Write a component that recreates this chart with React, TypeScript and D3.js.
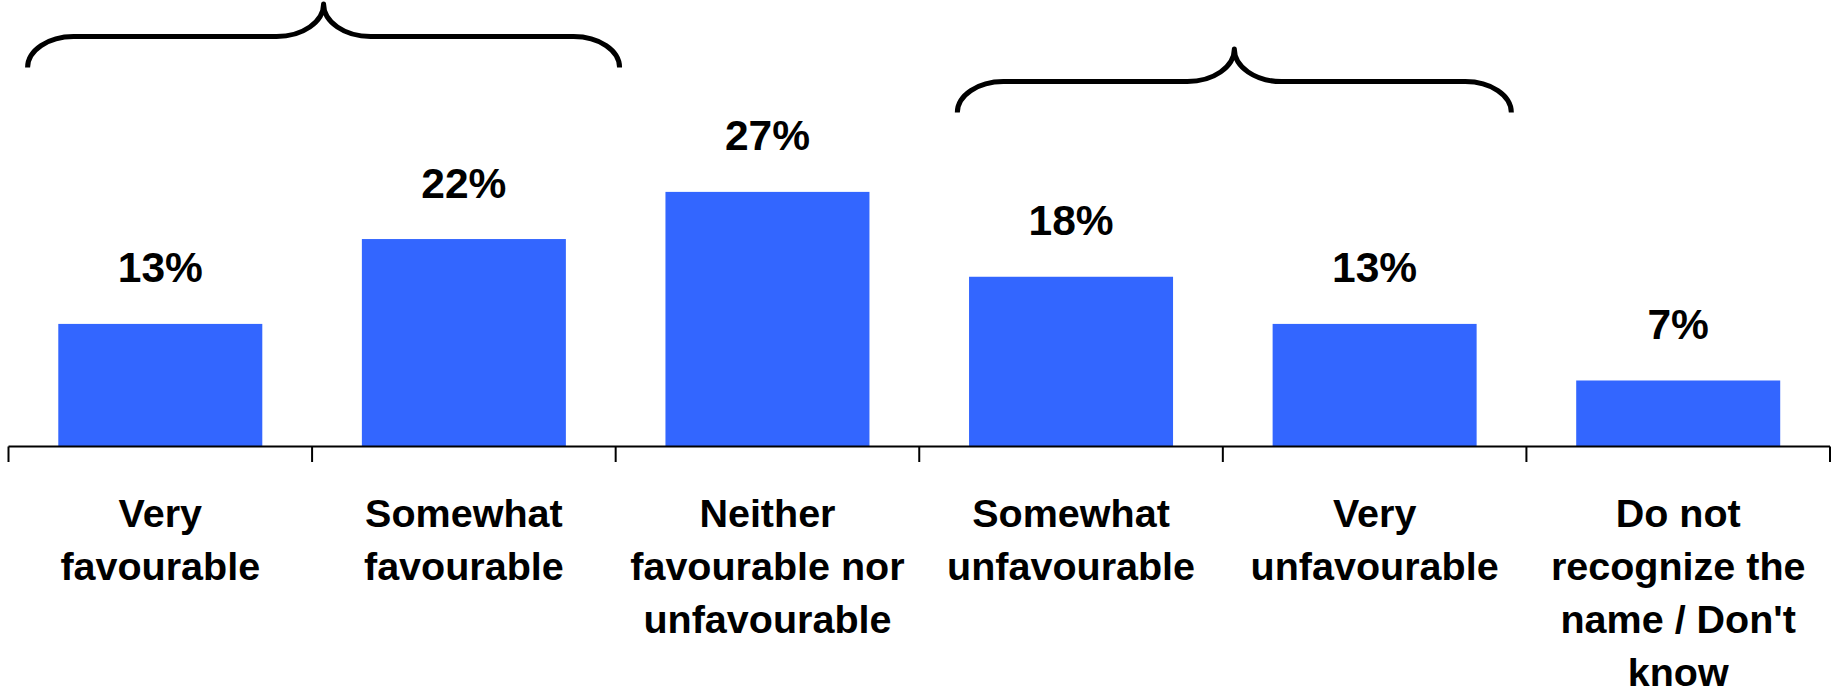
import React from "react";
import * as d3 from "d3";

const categories = [
  "Very favourable",
  "Somewhat favourable",
  "Neither favourable nor unfavourable",
  "Somewhat unfavourable",
  "Very unfavourable",
  "Do not recognize the name / Don't know",
];
const categoryLines = [
  ["Very", "favourable"],
  ["Somewhat", "favourable"],
  ["Neither", "favourable nor", "unfavourable"],
  ["Somewhat", "unfavourable"],
  ["Very", "unfavourable"],
  ["Do not", "recognize the", "name / Don't", "know"],
];
const values = [13, 22, 27, 18, 13, 7];
const valueLabels = ["13%", "22%", "27%", "18%", "13%", "7%"];
const braceGroups = [
  { from: 0, to: 1, level: 0, halfWidth: 296 },
  { from: 3, to: 4, level: 1, halfWidth: 277 },
];

const W = 1835;
const H = 693;
const BAR_COLOR = "#3366ff";
const FONT = "'Liberation Sans', Arial, Helvetica, sans-serif";

export default function App() {
  const axisY = 446.5;
  const x0 = 8.5;
  const x1 = 1830;
  const pad = 0.328;
  const x = d3
    .scaleBand<string>()
    .domain(categories)
    .range([x0, x1])
    .paddingInner(pad)
    .paddingOuter(pad / 2);
  const step = x.step();
  const y = d3.scaleLinear().domain([0, 30]).range([axisY, axisY - 9.43 * 30]);

  const boundaries = d3.range(categories.length + 1).map((i) => x0 + i * step);

  const bracePath = (g: (typeof braceGroups)[number]) => {
    const start = boundaries[g.from];
    const end = boundaries[g.to + 1];
    const cx = (start + end) / 2 + 11.5;
    const left = cx - g.halfWidth;
    const right = cx + g.halfWidth;
    const yt = 4 + g.level * 45;
    const yh = yt + 32.5;
    const ye = yh + 31;
    const rx = 46;
    const ry = ye - yh;
    const rx2 = 47;
    const ry2 = yh - yt;
    return [
      `M${left},${ye}`,
      `A${rx},${ry} 0 0 1 ${left + rx},${yh}`,
      `L${cx - rx2},${yh}`,
      `A${rx2},${ry2} 0 0 0 ${cx},${yt}`,
      `A${rx2},${ry2} 0 0 0 ${cx + rx2},${yh}`,
      `L${right - rx},${yh}`,
      `A${rx},${ry} 0 0 1 ${right},${ye}`,
    ].join(" ");
  };

  return (
    <svg
      width={W}
      height={H}
      style={{ position: "absolute", left: 0, top: 0, background: "#fff" }}
      fontFamily={FONT}
    >
      {braceGroups.map((g, i) => (
        <path
          key={i}
          d={bracePath(g)}
          fill="none"
          stroke="#000"
          strokeWidth={5}
          strokeLinejoin="round"
        />
      ))}
      {categories.map((c, i) => (
        <rect
          key={c}
          x={x(c)}
          y={y(values[i])}
          width={x.bandwidth()}
          height={axisY - y(values[i])}
          fill={BAR_COLOR}
        />
      ))}
      {categories.map((c, i) => (
        <text
          key={"v" + c}
          x={(x(c) as number) + x.bandwidth() / 2}
          y={y(values[i]) - 41.5}
          textAnchor="middle"
          fontWeight="bold"
          fontSize={42.5}
          fill="#000"
        >
          {valueLabels[i]}
        </text>
      ))}
      <line x1={x0} x2={x1} y1={axisY} y2={axisY} stroke="#000" strokeWidth={2} />
      {boundaries.map((b, i) => (
        <line key={"t" + i} x1={b} x2={b} y1={axisY} y2={462} stroke="#000" strokeWidth={2} />
      ))}
      {categories.map((c, i) => (
        <text
          key={"c" + c}
          textAnchor="middle"
          fontWeight="bold"
          fontSize={39.5}
          fill="#000"
        >
          {categoryLines[i].map((line, j) => (
            <tspan key={j} x={(x(c) as number) + x.bandwidth() / 2} y={axisY + 80.5 + j * 53}>
              {line}
            </tspan>
          ))}
        </text>
      ))}
    </svg>
  );
}
